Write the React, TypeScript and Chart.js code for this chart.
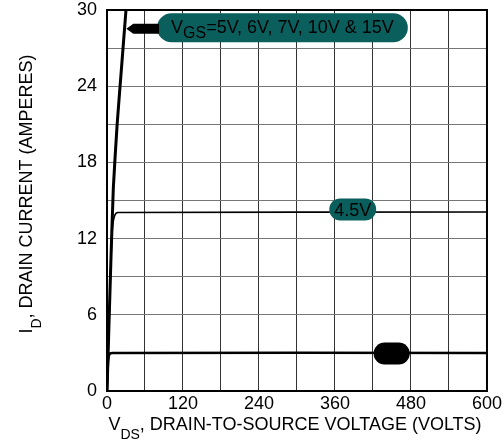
import React, { useEffect, useRef } from "react";
import { Chart, registerables } from "chart.js";

Chart.register(...registerables);

// ---- data ----
const vgsHighV = [0, 6, 10, 16, 23, 30, 33];
const vgsHighI = [0, 10, 16, 21, 25.5, 30, 31.5];
const vgs45V = [0, 3, 6, 8, 10, 13, 17, 600];
const vgs45I = [0, 5, 10, 12.4, 13.4, 13.9, 14.05, 14.1];
const vgs3V = [0, 1, 2, 4, 8, 600];
const vgs3I = [0, 1.6, 2.5, 2.9, 3, 3];
const xTickLabels = [0, 120, 240, 360, 480, 600];
const yTickLabels = [0, 6, 12, 18, 24, 30];
const labelTop = "=5V, 6V, 7V, 10V & 15V";
const labelMid = "4.5V";

const FONT = "'Liberation Sans', Arial, Helvetica, sans-serif";
const TEAL = "#0a5f5d";

const pts = (xs: number[], ys: number[]) => xs.map((x, i) => ({ x, y: ys[i] }));

function pill(ctx: CanvasRenderingContext2D, x1: number, y1: number, x2: number, y2: number, fill: string) {
  const r = (y2 - y1) / 2;
  ctx.beginPath();
  (ctx as any).roundRect(x1, y1, x2 - x1, y2 - y1, r);
  ctx.fillStyle = fill;
  ctx.fill();
}

const annotations = {
  id: "annotations",
  afterDatasetsDraw(chart: any) {
    const ctx: CanvasRenderingContext2D = chart.ctx;
    const xs = chart.scales.x;
    const ys = chart.scales.y;
    const { left, top, right, bottom } = chart.chartArea;
    ctx.save();
    // frame
    ctx.strokeStyle = "#000";
    ctx.lineWidth = 2;
    ctx.strokeRect(left, top, right - left, bottom - top);

    // top label pill
    const tx1 = xs.getPixelForValue(79);
    const tx2 = xs.getPixelForValue(475);
    const tyc = ys.getPixelForValue(28.6);
    pill(ctx, tx1, tyc - 14.5, tx2, tyc + 14.5, TEAL);
    // leader arrow
    const ax = xs.getPixelForValue(30.5);
    const ay = tyc + 1;
    ctx.beginPath();
    ctx.moveTo(ax, ay);
    ctx.lineTo(ax + 7, ay - 5);
    ctx.lineTo(tx1 + 2, ay - 5);
    ctx.lineTo(tx1 + 2, ay + 5);
    ctx.lineTo(ax + 7, ay + 5);
    ctx.closePath();
    ctx.fillStyle = "#000";
    ctx.fill();
    // top label text
    ctx.fillStyle = "#000";
    ctx.textBaseline = "alphabetic";
    ctx.textAlign = "left";
    ctx.font = `18px ${FONT}`;
    const wV = ctx.measureText("V").width;
    ctx.font = `16px ${FONT}`;
    const wGS = ctx.measureText("GS").width;
    ctx.font = `18px ${FONT}`;
    const wRest = ctx.measureText(labelTop).width;
    const total = wV + wGS + wRest;
    let cx = (tx1 + tx2) / 2 - total / 2;
    const base = tyc + 5;
    ctx.fillText("V", cx, base);
    cx += wV;
    ctx.font = `16px ${FONT}`;
    ctx.fillText("GS", cx, base + 5);
    cx += wGS;
    ctx.font = `18px ${FONT}`;
    ctx.fillText(labelTop, cx, base);

    // 4.5V pill
    const mx1 = xs.getPixelForValue(351);
    const mx2 = xs.getPixelForValue(425);
    const myc = ys.getPixelForValue(14.3);
    pill(ctx, mx1, myc - 11, mx2, myc + 11, TEAL);
    ctx.fillStyle = "#000";
    ctx.textAlign = "center";
    ctx.font = `18px ${FONT}`;
    ctx.fillText(labelMid, (mx1 + mx2) / 2, myc + 7);

    // black pill on lowest curve
    const bx1 = xs.getPixelForValue(421);
    const bx2 = xs.getPixelForValue(478);
    const byc = ys.getPixelForValue(2.95);
    pill(ctx, bx1, byc - 11, bx2, byc + 11, "#000");
    ctx.restore();
  },
  afterDraw(chart: any) {
    const ctx: CanvasRenderingContext2D = chart.ctx;
    const { left, right } = chart.chartArea;
    ctx.save();
    ctx.fillStyle = "#000";
    ctx.textBaseline = "alphabetic";
    ctx.textAlign = "left";
    // x title
    ctx.font = `18px ${FONT}`;
    const w1 = ctx.measureText("V").width;
    ctx.font = `14px ${FONT}`;
    const w2 = ctx.measureText("DS").width;
    ctx.font = `18px ${FONT}`;
    const xRest = ", DRAIN-TO-SOURCE VOLTAGE (VOLTS)";
    const w3 = ctx.measureText(xRest).width;
    let x = (left + right) / 2 - 2 - (w1 + w2 + w3) / 2;
    const xb = 430;
    ctx.fillText("V", x, xb);
    x += w1;
    ctx.font = `14px ${FONT}`;
    ctx.fillText("DS", x, xb + 9);
    x += w2;
    ctx.font = `18px ${FONT}`;
    ctx.fillText(xRest, x, xb);

    // y title (rotated)
    ctx.translate(32, 194);
    ctx.rotate(-Math.PI / 2);
    ctx.font = `18px ${FONT}`;
    const v1 = ctx.measureText("I").width;
    ctx.font = `14px ${FONT}`;
    const v2 = ctx.measureText("D").width;
    ctx.font = `18px ${FONT}`;
    const yRest = ", DRAIN CURRENT (AMPERES)";
    const v3 = ctx.measureText(yRest).width;
    let y = -(v1 + v2 + v3) / 2;
    ctx.fillText("I", y, 0);
    y += v1;
    ctx.font = `14px ${FONT}`;
    ctx.fillText("D", y, 9);
    y += v2;
    ctx.font = `18px ${FONT}`;
    ctx.fillText(yRest, y, 0);
    ctx.restore();
  },
};

export default function App() {
  const ref = useRef<HTMLCanvasElement | null>(null);
  useEffect(() => {
    if (!ref.current) return;
    const chart = new Chart(ref.current, {
      type: "scatter",
      data: {
        datasets: [
          { data: pts(vgsHighV, vgsHighI), showLine: true, borderColor: "#000", borderWidth: 3, pointRadius: 0, tension: 0.15 },
          { data: pts(vgs45V, vgs45I), showLine: true, borderColor: "#000", borderWidth: 1.6, pointRadius: 0, tension: 0.2 },
          { data: pts(vgs3V, vgs3I), showLine: true, borderColor: "#000", borderWidth: 2.5, pointRadius: 0, tension: 0.2 },
        ],
      },
      options: {
        animation: false,
        responsive: false,
        events: [],
        layout: { padding: { left: 0, right: 17, top: 10, bottom: 0 } },
        plugins: { legend: { display: false }, tooltip: { enabled: false } },
        scales: {
          x: {
            type: "linear",
            min: 0,
            max: 600,
            afterFit: (s: any) => { s.height = 50; },
            ticks: {
              stepSize: 60,
              autoSkip: false,
              maxRotation: 0,
              color: "#000",
              font: { family: FONT, size: 18 },
              padding: 2,
              callback: (v: any) => (xTickLabels.includes(Number(v)) ? String(v) : ""),
            },
            grid: { color: "#333", lineWidth: 1, drawTicks: false },
            border: { display: false },
          },
          y: {
            min: 0,
            max: 30,
            afterFit: (s: any) => { s.width = 107; s.paddingTop = 0; s.paddingBottom = 0; },
            ticks: {
              stepSize: 3,
              autoSkip: false,
              color: "#000",
              font: { family: FONT, size: 18 },
              padding: 10,
              callback: (v: any) => (yTickLabels.includes(Number(v)) ? String(v) : ""),
            },
            grid: { color: "#777", lineWidth: 1, drawTicks: false },
            border: { display: false },
          },
        },
      },
      plugins: [annotations],
    });
    return () => chart.destroy();
  }, []);
  return (
    <div style={{ position: "absolute", left: 0, top: 0, width: 504, height: 441, background: "#fff" }}>
      <canvas ref={ref} width={504} height={441} />
    </div>
  );
}
